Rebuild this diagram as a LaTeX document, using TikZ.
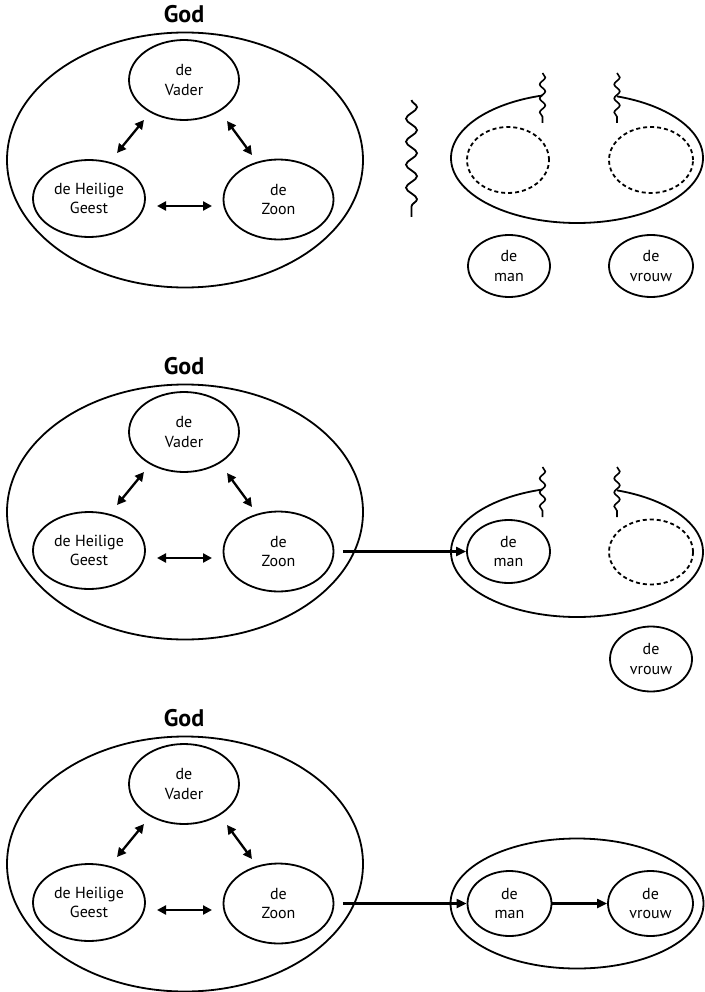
\documentclass[tikz,border=0pt]{standalone}
\usepackage{fontspec}
\setmainfont{PT Sans}
\usetikzlibrary{shapes.geometric,arrows.meta,decorations.pathmorphing,calc}
\tikzset{
  ov/.style={ellipse, draw, line width=1.8pt, inner sep=0pt, align=center,
             font=\fontsize{16}{19.5}\selectfont},
  dov/.style={ellipse, draw, line width=1.8pt, dash pattern=on 4pt off 3pt, inner sep=0pt},
  dbl/.style={line width=2.3pt, {Triangle[length=9pt,width=9pt]}-{Triangle[length=9pt,width=9pt]}},
  arr/.style={line width=2.1pt, -{Triangle[length=10pt,width=9pt]}},
  outline/.style={line width=1.8pt},
  wavebig/.style={line width=1.8pt, decorate, decoration={snake, amplitude=5.5pt, segment length=23pt}},
  wavesmall/.style={line width=1.6pt, decorate, decoration={snake, amplitude=2.8pt, segment length=14pt}},
  godlabel/.style={font=\bfseries\fontsize{24}{28}\selectfont},
}
\newcommand{\godblock}[1]{%
  \node[godlabel] (#1god) at (184,14) {God};
  \node[ov, minimum width=356pt, minimum height=255pt] (#1big) at (185,160) {};
  \node[ov, minimum width=110pt, minimum height=80pt] (#1v) at (184,80) {de\\Vader};
  \node[ov, minimum width=112pt, minimum height=77pt] (#1h) at (89,198.5) {de Heilige\\Geest};
  \node[ov, minimum width=110pt, minimum height=80pt] (#1z) at (278.5,199.5) {de\\Zoon};
  \draw[dbl] ($(#1h)+(28,-45.5)$) -- ($(#1v)+(-40,40)$);
  \draw[dbl] ($(#1v)+(43,41)$) -- ($(#1z)+(-26.5,-44.5)$);
  \draw[dbl] ($(#1h)+(68,7.5)$) -- ($(#1z)+(-66.5,6.5)$);
}
% open outer ellipse with the two small wavy cuts; #1 = centre y
\newcommand{\openoval}[2]{%
  \coordinate (#2c) at (577,#1);
  \draw[outline] plot[domain=-71.5:254.1, samples=140, smooth] ({577+126*cos(\x)},{#1+65*sin(\x)});
  \coordinate (#2wa1) at (542.5,#1-85); \coordinate (#2wa2) at (542.5,#1-35);
  \coordinate (#2wb1) at (617,#1-85);   \coordinate (#2wb2) at (617,#1-35);
  \draw[wavesmall] (#2wa1) -- (#2wa2);
  \draw[wavesmall] (#2wb1) -- (#2wb2);
}
\begin{document}
\begin{tikzpicture}[x=1pt,y=-1pt]
\useasboundingbox (0,0) rectangle (704,992);

% ---------- panel 1 ----------
\begin{scope}
  \godblock{a}
\end{scope}
\coordinate (aw1) at (411.5,100);
\coordinate (aw2) at (411.5,217);
\draw[wavebig] (aw1) -- (aw2);
\openoval{158}{ar}
\node[dov, minimum width=82pt, minimum height=66pt] (adm) at (508,160) {};
\node[dov, minimum width=84pt, minimum height=66pt] (adv) at (651,160) {};
\node[ov, minimum width=82pt, minimum height=62pt] (aman) at (509,266) {de\\man};
\node[ov, minimum width=84pt, minimum height=62pt] (avrouw) at (651,266) {de\\vrouw};

% ---------- panel 2 ----------
\begin{scope}[shift={(0,352)}]
  \godblock{b}
\end{scope}
\openoval{552}{br}
\node[ov, minimum width=83pt, minimum height=63pt] (bman) at (508.5,551.5) {de\\man};
\node[dov, minimum width=84pt, minimum height=65pt] (bdv) at (651,552) {};
\node[ov, minimum width=82pt, minimum height=65pt] (bvrouw) at (651,659) {de\\vrouw};
\draw[arr, shorten <=8.5pt] (bz.east) -- (bman.west);

% ---------- panel 3 ----------
\begin{scope}[shift={(0,704)}]
  \godblock{c}
\end{scope}
\node[ov, minimum width=253pt, minimum height=130pt] (cr) at (577,903.5) {};
\node[ov, minimum width=84pt, minimum height=65pt] (cman) at (509.5,903.5) {de\\man};
\node[ov, minimum width=85pt, minimum height=65pt] (cvrouw) at (650.5,903.5) {de\\vrouw};
\draw[arr, shorten <=8.5pt] (cz.east) -- (cman.west);
\draw[arr] (cman.east) -- (cvrouw.west);
\end{tikzpicture}
\end{document}
